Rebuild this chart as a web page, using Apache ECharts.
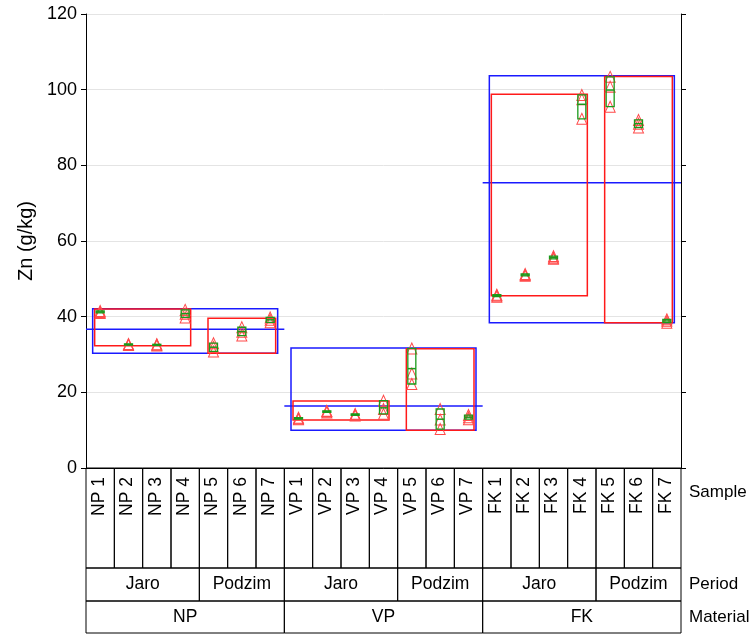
<!DOCTYPE html>
<html>
<head>
<meta charset="utf-8">
<script src="https://cdn.jsdelivr.net/npm/echarts@6/dist/echarts.min.js"></script>
<style>html,body{margin:0;padding:0;background:#fff;}#chart{width:756px;height:635px;}</style>
</head>
<body>
<div id="chart"></div>
<script>
// ---- data ----
const samples = ['NP 1','NP 2','NP 3','NP 4','NP 5','NP 6','NP 7',
                 'VP 1','VP 2','VP 3','VP 4','VP 5','VP 6','VP 7',
                 'FK 1','FK 2','FK 3','FK 4','FK 5','FK 6','FK 7'];
const materials = ['NP','VP','FK'];
const periods = ['Jaro','Podzim'];
const periodSizes = [4, 3];
const rowNames = ['Sample','Period','Material'];
// three replicate measurements per sample
const rep1 = [41.0, 32.5, 32.4, 39.8, 30.8, 35.0, 38.5, 12.9, 14.7, 13.9, 14.3, 22.2, 10.3, 12.9, 45.3, 50.8, 55.3, 92.3, 95.5, 90.0, 38.4];
const rep2 = [41.2, 32.6, 32.6, 40.8, 32.0, 36.0, 39.2, 13.1, 15.0, 14.1, 15.6, 25.0, 12.8, 13.4, 45.6, 51.0, 55.6, 97.5, 100.8, 91.0, 38.9];
const rep3 = [41.5, 32.8, 32.7, 41.8, 33.0, 37.2, 39.8, 13.3, 15.1, 14.3, 17.8, 31.6, 15.6, 14.0, 45.8, 51.3, 56.0, 98.6, 103.4, 92.0, 39.3];
// period boxes (NP Jaro, NP Podzim, VP Jaro, VP Podzim, FK Jaro, FK Podzim)
const periodLow  = [32.3, 30.3, 12.7, 10.0, 45.5, 38.4];
const periodHigh = [42.0, 39.6, 17.7, 31.5, 98.8, 103.5];
// material boxes and means
const materialLow  = [30.3, 10.0, 38.4];
const materialHigh = [42.1, 31.7, 103.7];
const materialMean = [36.7, 16.4, 75.4];
const yTicks = [0, 20, 40, 60, 80, 100, 120];

// ---- derived structures ----
const nS = samples.length;
const greenData = samples.map((s, i) => {
  const v = [rep1[i], rep2[i], rep3[i]];
  return [i, Math.min(...v), Math.max(...v), (v[0] + v[1] + v[2]) / 3];
});
const pointData = [];
samples.forEach((s, i) => { [rep1[i], rep2[i], rep3[i]].forEach(v => pointData.push([i + 0.5, v])); });
const periodData = [];
const periodCells = [];
const materialData = [];
const materialCells = [];
let idx = 0, pk = 0;
materials.forEach((m, mi) => {
  const mStart = idx;
  periods.forEach((p, pi) => {
    const st = idx, en = idx + periodSizes[pi] - 1;
    periodData.push([st, en, periodLow[pk], periodHigh[pk]]);
    periodCells.push([st, en + 1, pk]);
    idx += periodSizes[pi]; pk++;
  });
  materialData.push([mStart, idx - 1, materialLow[mi], materialHigh[mi], materialMean[mi]]);
  materialCells.push([mStart, idx, mi]);
});
const periodLabels = [];
materials.forEach(() => periods.forEach(p => periodLabels.push(p)));

const FAMILY = '"Liberation Sans", Arial, sans-serif';
const FONT = '17.5px ' + FAMILY;
const FONT_ROW = '17px ' + FAMILY;
const RED = '#ff1a1a', BLUE = '#1a1aff', GREEN = '#1a9a1a';
const rowFrac = [100 / 166, 33 / 166, 33 / 166];

function txt(x, y, text, align, valign, rot, font) {
  return { type: 'text', x: x, y: y, rotation: rot || 0,
    style: { text: text, font: font || FONT, fill: '#000', align: align, verticalAlign: valign,
             textAlign: align, textVerticalAlign: valign } };
}

const chart = echarts.init(document.getElementById('chart'), null, { renderer: 'canvas' });
chart.setOption({
  animation: false,
  backgroundColor: '#fff',
  grid: [
    { left: 86, top: 14, width: 595, height: 454, containLabel: false, outerBoundsMode: 'none' },
    { left: 86, top: 468, width: 595, height: 166, containLabel: false, outerBoundsMode: 'none' }
  ],
  xAxis: [
    { gridIndex: 0, type: 'value', min: 0, max: nS, position: 'top',
      axisLine: { show: true, lineStyle: { color: '#000', width: 1 } },
      axisTick: { show: false }, axisLabel: { show: false }, splitLine: { show: false } },
    { gridIndex: 1, type: 'value', min: 0, max: nS, show: false }
  ],
  yAxis: [
    { gridIndex: 0, type: 'value', min: 0, max: 120, interval: 20, position: 'left',
      name: 'Zn (g/kg)', nameLocation: 'middle', nameGap: 49,
      nameTextStyle: { fontSize: 20, color: '#000', fontFamily: FAMILY },
      axisLine: { show: true, lineStyle: { color: '#000', width: 1 } },
      axisTick: { show: true, inside: false, length: 5, lineStyle: { color: '#000' } },
      axisLabel: { show: true, fontSize: 18, color: '#000', margin: 9, fontFamily: FAMILY,
                   formatter: v => yTicks.indexOf(v) >= 0 ? String(v) : '' },
      splitLine: { show: true, lineStyle: { color: '#e4e4e4', width: 1 } } },
    { gridIndex: 0, type: 'value', min: 0, max: 120, interval: 20, position: 'right',
      axisLine: { show: true, lineStyle: { color: '#000', width: 1 } },
      axisTick: { show: true, inside: false, length: 5, lineStyle: { color: '#000' } },
      axisLabel: { show: false }, splitLine: { show: false } },
    { gridIndex: 1, type: 'value', min: 0, max: 1, show: false }
  ],
  series: [
    { // material (blue) boxes + mean lines
      type: 'custom', xAxisIndex: 0, yAxisIndex: 0, clip: false, z: 2,
      data: materialData,
      renderItem: function (params, api) {
        const st = api.value(0), en = api.value(1);
        const lo = api.coord([st + 0.5, api.value(2)]);
        const hi = api.coord([en + 0.5, api.value(3)]);
        const mA = api.coord([st, api.value(4)]);
        const mB = api.coord([en + 1, api.value(4)]);
        const pad = 7.5;
        return { type: 'group', children: [
          { type: 'rect', shape: { x: lo[0] - pad, y: hi[1], width: hi[0] - lo[0] + 2 * pad, height: lo[1] - hi[1] },
            style: { fill: 'none', stroke: BLUE, lineWidth: 1.5 } },
          { type: 'line', shape: { x1: mA[0], y1: mA[1], x2: mB[0], y2: mB[1] },
            style: { stroke: BLUE, lineWidth: 1.5 } }
        ] };
      }
    },
    { // period (red) boxes
      type: 'custom', xAxisIndex: 0, yAxisIndex: 0, clip: false, z: 3,
      data: periodData,
      renderItem: function (params, api) {
        const lo = api.coord([api.value(0) + 0.5, api.value(2)]);
        const hi = api.coord([api.value(1) + 0.5, api.value(3)]);
        const pad = 5.5;
        return { type: 'rect', shape: { x: lo[0] - pad, y: hi[1], width: hi[0] - lo[0] + 2 * pad, height: lo[1] - hi[1] },
          style: { fill: 'none', stroke: RED, lineWidth: 1.5 } };
      }
    },
    { // sample (green) ranges + means
      type: 'custom', xAxisIndex: 0, yAxisIndex: 0, clip: false, z: 5,
      data: greenData,
      renderItem: function (params, api) {
        const x = api.value(0) + 0.5;
        const lo = api.coord([x, api.value(1)]);
        const hi = api.coord([x, api.value(2)]);
        const m = api.coord([x, api.value(3)]);
        const hw = 4;
        return { type: 'group', children: [
          { type: 'rect', shape: { x: lo[0] - hw, y: hi[1], width: 2 * hw, height: Math.max(lo[1] - hi[1], 0.5) },
            style: { fill: 'none', stroke: GREEN, lineWidth: 1.3 } },
          { type: 'line', shape: { x1: m[0] - hw, y1: m[1], x2: m[0] + hw, y2: m[1] },
            style: { stroke: GREEN, lineWidth: 1.5 } }
        ] };
      }
    },
    { // replicate triangles
      type: 'scatter', xAxisIndex: 0, yAxisIndex: 0, z: 4,
      symbol: 'triangle', symbolSize: [10, 11],
      itemStyle: { color: 'rgba(255,255,255,0)', borderColor: '#ff4a4a', borderWidth: 1, opacity: 1 },
      emphasis: { disabled: true },
      data: pointData
    },
    { // sample row cells
      type: 'custom', xAxisIndex: 1, yAxisIndex: 2, clip: false, silent: true,
      data: samples.map((s, i) => [i]),
      renderItem: function (params, api) {
        const cs = params.coordSys;
        const i = api.value(0);
        const x0 = api.coord([i, 0])[0], x1 = api.coord([i + 1, 0])[0];
        const h = cs.height * rowFrac[0];
        return { type: 'group', children: [
          { type: 'rect', shape: { x: x0, y: cs.y, width: x1 - x0, height: h },
            style: { fill: 'none', stroke: '#000', lineWidth: 1 } },
          txt((x0 + x1) / 2 - 1, cs.y + 9, samples[i], 'right', 'middle', Math.PI / 2)
        ] };
      }
    },
    { // period row cells
      type: 'custom', xAxisIndex: 1, yAxisIndex: 2, clip: false, silent: true,
      data: periodCells,
      renderItem: function (params, api) {
        const cs = params.coordSys;
        const x0 = api.coord([api.value(0), 0])[0], x1 = api.coord([api.value(1), 0])[0];
        const y0 = cs.y + cs.height * rowFrac[0];
        const h = cs.height * rowFrac[1];
        return { type: 'group', children: [
          { type: 'rect', shape: { x: x0, y: y0, width: x1 - x0, height: h },
            style: { fill: 'none', stroke: '#000', lineWidth: 1 } },
          txt((x0 + x1) / 2, y0 + h / 2, periodLabels[api.value(2)], 'center', 'middle', 0)
        ] };
      }
    },
    { // material row cells
      type: 'custom', xAxisIndex: 1, yAxisIndex: 2, clip: false, silent: true,
      data: materialCells,
      renderItem: function (params, api) {
        const cs = params.coordSys;
        const x0 = api.coord([api.value(0), 0])[0], x1 = api.coord([api.value(1), 0])[0];
        const y0 = cs.y + cs.height * (rowFrac[0] + rowFrac[1]);
        const h = cs.height * rowFrac[2];
        return { type: 'group', children: [
          { type: 'rect', shape: { x: x0, y: y0, width: x1 - x0, height: h - 1 },
            style: { fill: 'none', stroke: '#000', lineWidth: 1 } },
          txt((x0 + x1) / 2, y0 + h / 2, materials[api.value(2)], 'center', 'middle', 0)
        ] };
      }
    },
    { // row names on the right
      type: 'custom', xAxisIndex: 1, yAxisIndex: 2, clip: false, silent: true,
      data: rowNames.map((r, i) => [i]),
      renderItem: function (params, api) {
        const cs = params.coordSys;
        const r = api.value(0);
        const x = cs.x + cs.width + 8;
        let y;
        if (r === 0) y = cs.y + 24;
        else if (r === 1) y = cs.y + cs.height * (rowFrac[0] + rowFrac[1] / 2);
        else y = cs.y + cs.height * (rowFrac[0] + rowFrac[1] + rowFrac[2] / 2);
        return txt(x, y, rowNames[r], 'left', 'middle', 0, FONT_ROW);
      }
    }
  ]
});
</script>
</body>
</html>
